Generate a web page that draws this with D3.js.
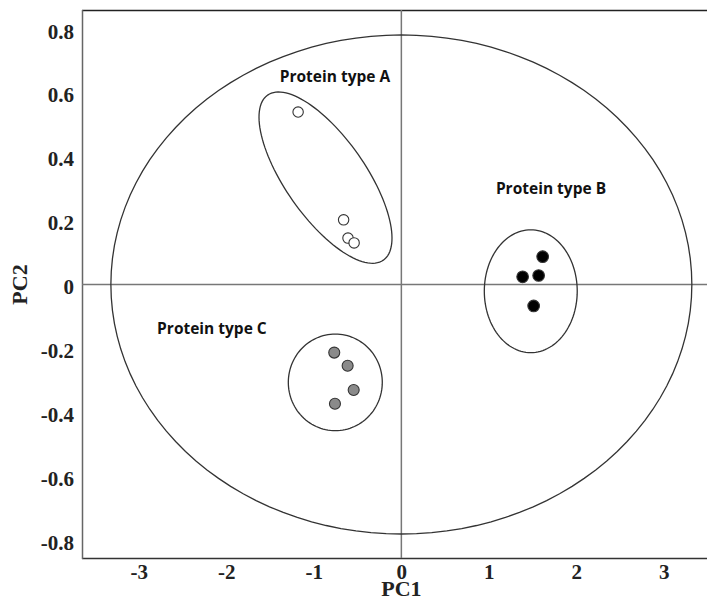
<!DOCTYPE html>
<html lang="en">
<head>
    <meta charset="UTF-8">
    <title>PCA score plot</title>
    <style>
        body { margin: 0; background: #fff; }
        .tick-label { font-family: "Liberation Serif", serif; font-weight: bold; font-size: 21px; fill: #222; }
        .axis-title { font-family: "Liberation Serif", serif; font-weight: bold; font-size: 22px; fill: #222; }
        .group-label { font-family: "Open Sans", sans-serif; font-weight: bold; font-size: 15.5px; fill: #111; }
    </style>
</head>
<body>
    <script src="https://cdn.jsdelivr.net/npm/d3@7"></script>
    <script type="text/javascript">
        // data
        var groupNames = ["Protein type A", "Protein type B", "Protein type C"];
        var pc1A = [-1.18, -0.66, -0.61, -0.54];
        var pc2A = [0.539, 0.202, 0.145, 0.130];
        var pc1B = [1.615, 1.386, 1.569, 1.512];
        var pc2B = [0.087, 0.024, 0.028, -0.067];
        var pc1C = [-0.767, -0.614, -0.545, -0.759];
        var pc2C = [-0.213, -0.254, -0.330, -0.373];

        // ellipses: centre + two half-axis vectors (data units)
        var ellCx = [0, -0.867, 1.479, -0.755];
        var ellCy = [0, 0.334, -0.021, -0.306];
        var ellU = [[3.32, 0], [0.661, -0.258], [0.531, 0], [0.537, 0]];
        var ellV = [[0, 0.78], [-0.375, -0.0716], [0, 0.192], [0, 0.151]];

        var xTicks = [-3, -2, -1, 0, 1, 2, 3];
        var yTicks = [0.8, 0.6, 0.4, 0.2, 0, -0.2, -0.4, -0.6, -0.8];

        var w = 707, h = 600;
        var svg = d3.select("body").append("svg").attr("width", w).attr("height", h);

        var x = d3.scaleLinear().domain([-3.65, 3.5]).range([82, 707.6]);
        var y = d3.scaleLinear().domain([-0.855, 0.858]).range([558, 10]);

        var fmt = function(d){
            if (d === 0) return "0";
            return (Number.isInteger(d) ? d3.format("d")(d) : d3.format(".1f")(d)).replace("\u2212", "-");
        };

        // frame (open on the right)
        svg.append("line").attr("x1", 82).attr("x2", w).attr("y1", 10.5).attr("y2", 10.5)
            .attr("stroke", "#222").attr("stroke-width", 1.3);
        svg.append("line").attr("x1", 82).attr("x2", w).attr("y1", 558.5).attr("y2", 558.5)
            .attr("stroke", "#333").attr("stroke-width", 1.3);
        svg.append("line").attr("x1", 82.5).attr("x2", 82.5).attr("y1", 10).attr("y2", 559)
            .attr("stroke", "#666").attr("stroke-width", 1.5);

        // zero lines
        svg.append("line").attr("x1", 82).attr("x2", w).attr("y1", y(0)).attr("y2", y(0))
            .attr("stroke", "#777").attr("stroke-width", 1.5);
        svg.append("line").attr("x1", x(0)).attr("x2", x(0)).attr("y1", 10).attr("y2", 558)
            .attr("stroke", "#777").attr("stroke-width", 1.5);

        // axes (labels only, no tick marks)
        var xAxis = svg.append("g").attr("transform", "translate(0,558)")
            .call(d3.axisBottom(x).tickValues(xTicks).tickSize(0).tickPadding(0).tickFormat(fmt));
        xAxis.select(".domain").remove();
        xAxis.selectAll("text").attr("class", "tick-label").attr("y", 21).attr("dy", 0).attr("font-size", null);

        var yAxis = svg.append("g").attr("transform", "translate(82,0)")
            .call(d3.axisLeft(y).tickValues(yTicks).tickSize(0).tickPadding(8).tickFormat(fmt));
        yAxis.select(".domain").remove();
        yAxis.selectAll("text").attr("class", "tick-label").attr("dy", "0.45em").attr("font-size", null);
        yAxis.attr("font-family", null).attr("font-size", null);
        xAxis.attr("font-family", null).attr("font-size", null);

        svg.append("text").attr("class", "axis-title").attr("x", x(0)).attr("y", 596)
            .attr("text-anchor", "middle").text("PC1");
        svg.append("text").attr("class", "axis-title")
            .attr("transform", "translate(27," + y(0) + ") rotate(-90)")
            .attr("text-anchor", "middle").text("PC2");

        // ellipses
        var steps = d3.range(0, 120).map(function(i){ return i / 120 * 2 * Math.PI; });
        var line = d3.line().curve(d3.curveLinearClosed)
            .x(function(d){ return x(d[0]); }).y(function(d){ return y(d[1]); });
        ellCx.forEach(function(cx, k){
            var pts = steps.map(function(t){
                return [cx + ellU[k][0] * Math.cos(t) + ellV[k][0] * Math.sin(t),
                        ellCy[k] + ellU[k][1] * Math.cos(t) + ellV[k][1] * Math.sin(t)];
            });
            svg.append("path").attr("d", line(pts)).attr("fill", "none")
                .attr("stroke", "#333").attr("stroke-width", 1.3);
        });

        // points
        function drawGroup(xs, ys, fill, r){
            svg.append("g").selectAll("circle")
                .data(xs.map(function(v, i){ return [v, ys[i]]; }))
                .enter().append("circle")
                .attr("cx", function(d){ return x(d[0]); })
                .attr("cy", function(d){ return y(d[1]); })
                .attr("r", r)
                .attr("fill", fill)
                .attr("stroke", "#333")
                .attr("stroke-width", 1.1);
        }
        drawGroup(pc1A, pc2A, "#fff", 5.2);
        drawGroup(pc1B, pc2B, "#000", 5.8);
        drawGroup(pc1C, pc2C, "#8a8a8a", 5.5);

        // group labels (anchored in data units)
        var labelPos = [[-0.759, 0.632], [1.71, 0.283], [-2.165, -0.155]];
        svg.selectAll(".group-label").data(groupNames).enter().append("text")
            .attr("class", "group-label")
            .attr("x", function(d, i){ return x(labelPos[i][0]); })
            .attr("y", function(d, i){ return y(labelPos[i][1]); })
            .attr("text-anchor", "middle")
            .text(function(d){ return d; });
    </script>
</body>
</html>
